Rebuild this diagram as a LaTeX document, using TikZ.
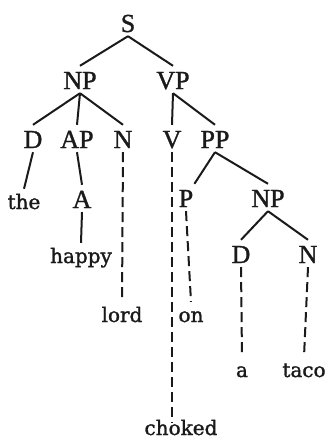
\documentclass[tikz,border=0pt]{standalone}
\usepackage{fontspec}
\setmainfont[FakeBold=1.2]{Liberation Serif}
\newfontfamily\wordfont[FakeBold=1.4]{DejaVu Serif}
\definecolor{ink}{HTML}{1A1A1A}
\begin{document}
\begin{tikzpicture}[x=1pt,y=-1pt,
  lab/.style={font=\fontsize{26}{28}\selectfont, text=ink, anchor=base,
    inner xsep=1pt, inner ysep=4pt, text height=19pt, text depth=0pt},
  word/.style={font=\wordfont\fontsize{20}{22}\selectfont, text=ink, anchor=base,
    inner xsep=1pt, inner ysep=5pt, text height=15pt, text depth=4pt},
  branch/.style={draw=ink, line width=2pt},
  proj/.style={draw=ink, line width=2pt, dash pattern=on 10pt off 5pt}]
\fill[white] (0,0) rectangle (326,440);
\useasboundingbox (0,0) rectangle (326,440);
% nodes
\node[lab] (S) at (128,32) {S};
\node[lab] (NPa) at (80,89) {NP};
\node[lab] (VP) at (173,89) {VP};
\node[lab] (Da) at (33,148) {D};
\node[lab] (AP) at (77,148) {AP};
\node[lab] (Na) at (123,148) {N};
\node[lab] (V) at (172,148) {V};
\node[lab] (PP) at (215,148) {PP};
\node[word] (the) at (24,209) {the};
\node[lab] (A) at (82,208) {A};
\node[lab] (P) at (186,207) {P};
\node[lab] (NPb) at (268,207) {NP};
\node[word] (happy) at (81,263) {happy};
\node[lab] (Db) at (241,263) {D};
\node[lab] (Nb) at (308,263) {N};
\node[word] (lord) at (122,322) {lord};
\node[word] (on) at (191,322) {on};
\node[word] (a) at (242,377) {a};
\node[word] (taco) at (304,377) {taco};
\node[word, text depth=0pt, inner ysep=1pt] (choked) at (181,435) {choked};
% branches
\draw[branch] (S.south) -- (NPa.north);
\draw[branch] (S.south) -- (VP.north);
\draw[branch] (NPa.south) -- (Da.north);
\draw[branch] (NPa.south) -- (AP.north);
\draw[branch] (NPa.south) -- (Na.north);
\draw[branch] (VP.south) -- (V.north);
\draw[branch] (VP.south) -- (PP.north);
\draw[branch] (Da.south) -- (the.north);
\draw[branch] (AP.south) -- (A.north);
\draw[branch] (A.south) -- (happy.north);
\draw[branch] (PP.south) -- (P.north east);
\draw[branch] (PP.south) -- (NPb.north);
\draw[branch] (NPb.south) -- (Db.north);
\draw[branch] (NPb.south) -- (Nb.north);
% projections
\draw[proj] (Na.south) -- (lord.north);
\draw[proj] (V.south) -- ([yshift=-4pt]V.south |- choked.north);
\draw[proj] (P.south) -- (on.north);
\draw[proj] (Db.south) -- (a.north);
\draw[proj] (Nb.south) -- (taco.north);
\end{tikzpicture}
\end{document}
